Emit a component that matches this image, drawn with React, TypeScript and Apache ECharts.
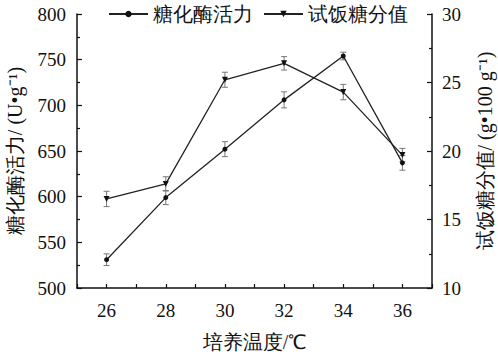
import React, { useEffect, useRef } from "react";
import * as echarts from "echarts";

const temps = [26, 28, 30, 32, 34, 36];
const enzymeActivity = [531, 599, 652, 706, 754, 637];
const enzymeErr = [6.4, 7.7, 8.2, 8.8, 4.2, 8];
const riceScore = [16.5, 17.6, 25.2, 26.4, 24.3, 19.7];
const riceErr = [0.56, 0.52, 0.55, 0.49, 0.56, 0.49];

const seriesNames = ["糖化酶活力", "试饭糖分值"];
const xName = "培养温度/℃";
const yLeftName = "糖化酶活力/ (U•g⁻¹)";
const yRightName = "试饭糖分值/ (g•100 g⁻¹)";

const FONT = "Liberation Serif";

export default function App() {
  const ref = useRef<HTMLDivElement>(null);
  useEffect(() => {
    document.body.style.margin = "0";
    const chart = echarts.init(ref.current!, null, { renderer: "svg" });
    const errRender = (params: any, api: any) => {
      const x = api.value(0);
      const lo = api.coord([x, api.value(1)]);
      const hi = api.coord([x, api.value(2)]);
      const w = 3;
      const st = { stroke: "#777", lineWidth: 1 };
      return {
        type: "group",
        children: [
          { type: "line", shape: { x1: lo[0], y1: lo[1], x2: hi[0], y2: hi[1] }, style: st },
          { type: "line", shape: { x1: lo[0] - w, y1: lo[1], x2: lo[0] + w, y2: lo[1] }, style: st },
          { type: "line", shape: { x1: hi[0] - w, y1: hi[1], x2: hi[0] + w, y2: hi[1] }, style: st },
        ],
      };
    };
    const axisCommon = {
      axisLine: { show: true, lineStyle: { color: "#111", width: 1.5 } },
      axisTick: { show: true, inside: true, length: 5, lineStyle: { color: "#111", width: 1.2 } },
      minorTick: { show: true, splitNumber: 2, length: 3, lineStyle: { color: "#111", width: 1.2 } },
      splitLine: { show: false },
      axisLabel: { color: "#111", fontSize: 19, fontFamily: FONT },
      nameTextStyle: { color: "#111", fontSize: 20, fontFamily: FONT },
    };
    chart.setOption({
      animation: false,
      backgroundColor: "#fff",
      textStyle: { fontFamily: FONT },
      grid: { left: 77, right: 66, top: 14, bottom: 66, containLabel: false, outerBoundsMode: "none" },
      legend: {
        data: seriesNames,
        left: 103,
        top: -1,
        itemWidth: 39,
        itemHeight: 8,
        itemGap: 10,
        textStyle: { color: "#111", fontSize: 20, fontFamily: FONT },
      },
      xAxis: {
        type: "value",
        min: 25,
        max: 37,
        interval: 1,
        ...axisCommon,
        minorTick: { show: false },
        axisTick: { show: true, inside: true, length: 4, lineStyle: { color: "#111", width: 1.2 } },
        axisLabel: {
          ...axisCommon.axisLabel,
          margin: 13,
          formatter: (v: number) => (v % 2 === 0 ? String(v) : ""),
        },
        name: xName,
        nameLocation: "middle",
        nameGap: 44,
      },
      yAxis: [
        {
          type: "value",
          min: 500,
          max: 800,
          interval: 50,
          ...axisCommon,
          axisLabel: { ...axisCommon.axisLabel, margin: 11 },
          name: yLeftName,
          nameLocation: "middle",
          nameRotate: 90,
          nameGap: 52,
        },
        {
          type: "value",
          min: 10,
          max: 30,
          interval: 5,
          position: "right",
          ...axisCommon,
          axisLabel: { ...axisCommon.axisLabel, margin: 10 },
          name: yRightName,
          nameLocation: "middle",
          nameRotate: 90,
          nameGap: 43,
        },
      ],
      series: [
        {
          type: "custom",
          name: "err1",
          yAxisIndex: 0,
          renderItem: errRender,
          encode: { x: 0, y: [1, 2] },
          data: temps.map((t, i) => [t, enzymeActivity[i] - enzymeErr[i], enzymeActivity[i] + enzymeErr[i]]),
          z: 1,
        },
        {
          type: "custom",
          name: "err2",
          yAxisIndex: 1,
          renderItem: errRender,
          encode: { x: 0, y: [1, 2] },
          data: temps.map((t, i) => [t, riceScore[i] - riceErr[i], riceScore[i] + riceErr[i]]),
          z: 1,
        },
        {
          type: "line",
          name: seriesNames[0],
          yAxisIndex: 0,
          data: temps.map((t, i) => [t, enzymeActivity[i]]),
          symbol: "circle",
          symbolSize: 5,
          itemStyle: { color: "#111" },
          lineStyle: { color: "#222", width: 1.3 },
          z: 3,
        },
        {
          type: "line",
          name: seriesNames[1],
          yAxisIndex: 1,
          data: temps.map((t, i) => [t, riceScore[i]]),
          symbol: "triangle",
          symbolRotate: 180,
          symbolSize: 6,
          itemStyle: { color: "#111" },
          lineStyle: { color: "#222", width: 1.3 },
          z: 3,
        },
      ],
    });
    return () => chart.dispose();
  }, []);
  return <div ref={ref} style={{ width: 498, height: 354 }} />;
}
